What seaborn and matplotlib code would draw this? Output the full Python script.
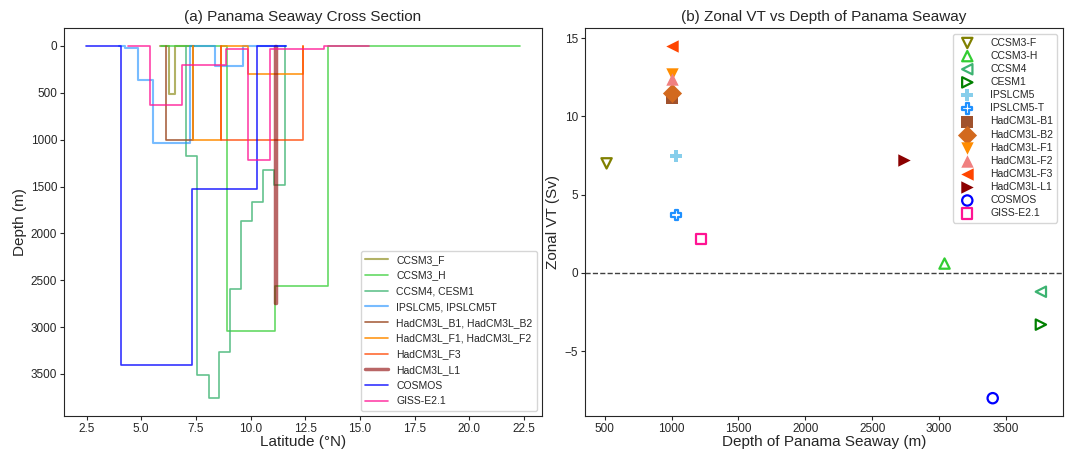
import matplotlib
matplotlib.use("Agg")
import matplotlib.pyplot as plt
import seaborn as sns

# (a) cross-section outlines: cell edges (deg N) and the depth of each cell (m)
ccsm3_f_lat = [5.85, 6.26, 6.54, 7.40]
ccsm3_f_depth = [0, 514, 0]
ccsm3_h_lat = [5.90, 8.92, 11.10, 13.53, 22.33]
ccsm3_h_depth = [0, 3039, 2564, 0]
ccsm4_lat = [7.07, 7.57, 8.08, 8.55, 9.06, 9.56, 10.06, 10.58, 11.07, 11.56]
ccsm4_depth = [1170, 3511, 3759, 3262, 2592, 1865, 1670, 1326, 1489]
ipsl_lat = [4.00, 4.25, 4.87, 5.54, 7.25, 8.36, 9.67, 11.60]
ipsl_depth = [0, 25, 364, 1035, 0, 214, 0]
had_b_lat = [6.13, 7.37]
had_b_depth = [1000]
had_f1_lat = [7.37, 8.64, 9.88, 12.39]
had_f1_depth = [1000, 0, 300]
had_f3_lat = [8.64, 12.39]
had_f3_depth = [1000]
had_l1_lat = [11.10, 11.18]
had_l1_depth = [2740]
cosmos_lat = [2.47, 4.07, 7.34, 10.30, 11.60]
cosmos_depth = [0, 3400, 1530, 0]
giss_lat = [4.40, 5.39, 6.88, 8.86, 9.90, 10.88, 13.38, 15.40]
giss_depth = [0, 625, 207, 29, 1221, 29, 0]

# (b) zonal volume transport against seaway depth
vt_models = ["CCSM3-F", "CCSM3-H", "CCSM4", "CESM1", "IPSLCM5", "IPSLCM5-T",
             "HadCM3L-B1", "HadCM3L-B2", "HadCM3L-F1", "HadCM3L-F2", "HadCM3L-F3",
             "HadCM3L-L1", "COSMOS", "GISS-E2.1"]
seaway_depth = [514, 3040, 3760, 3760, 1035, 1035, 1000, 1000, 1000, 1000, 1000,
                2740, 3400, 1220]
zonal_vt = [7.0, 0.6, -1.2, -3.3, 7.5, 3.7, 11.2, 11.5, 12.7, 12.4, 14.5,
            7.2, -8.0, 2.15]


def step_outline(edges, depths):
    """Turn cell edges and depths into the x/y vertices of a stepped outline."""
    xs, ys = [edges[0]], [0]
    for i, d in enumerate(depths):
        xs += [edges[i], edges[i + 1]]
        ys += [d, d]
    xs.append(edges[-1])
    ys.append(0)
    return xs, ys


sns.set_style("ticks")
plt.rcParams["font.family"] = ["Liberation Sans", "DejaVu Sans"]

fig, (ax1, ax2) = plt.subplots(1, 2, figsize=(10.69, 4.5), dpi=100)
fig.subplots_adjust(left=0.06, right=0.994, top=0.937, bottom=0.076, wspace=0.09)

profiles = [
    ("CCSM3_F", ccsm3_f_lat, ccsm3_f_depth, "olive", 0.6, 1.5),
    ("CCSM3_H", ccsm3_h_lat, ccsm3_h_depth, "limegreen", 0.75, 1.2),
    ("CCSM4, CESM1", ccsm4_lat, ccsm4_depth, "mediumseagreen", 0.8, 1.2),
    ("IPSLCM5, IPSLCM5T", ipsl_lat, ipsl_depth, "dodgerblue", 0.6, 1.5),
    ("HadCM3L_B1, HadCM3L_B2", had_b_lat, had_b_depth, "sienna", 0.9, 1.2),
    ("HadCM3L_F1, HadCM3L_F2", had_f1_lat, had_f1_depth, "darkorange", 0.9, 1.2),
    ("HadCM3L_F3", had_f3_lat, had_f3_depth, "orangered", 0.8, 1.2),
    ("HadCM3L_L1", had_l1_lat, had_l1_depth, "darkred", 0.6, 2.5),
    ("COSMOS", cosmos_lat, cosmos_depth, "blue", 0.8, 1.2),
    ("GISS-E2.1", giss_lat, giss_depth, "deeppink", 0.8, 1.2),
]
for label, lat, depth, color, alpha, lw in profiles:
    xs, ys = step_outline(lat, depth)
    sns.lineplot(x=xs, y=ys, sort=False, estimator=None, color=color,
                 alpha=alpha, linewidth=lw, label=label, ax=ax1)

ax1.invert_yaxis()
ax1.set_title("(a) Panama Seaway Cross Section", fontsize=11, pad=5)
ax1.set_xlabel("Latitude (°N)", fontsize=11, labelpad=0)
ax1.set_ylabel("Depth (m)", fontsize=11, labelpad=3)
ax1.tick_params(labelsize=8.5, length=3, width=0.8, pad=2)
ax1.legend(loc="lower right", fontsize=7.5, labelspacing=0.55, handlelength=2.2)

markers = ["v", "^", "<", ">", "P", "P", "s", "D", "v", "^", "<", ">", "o", "s"]
colors = ["olive", "limegreen", "mediumseagreen", "green", "skyblue", "dodgerblue",
          "sienna", "chocolate", "darkorange", "lightcoral", "orangered", "darkred",
          "blue", "deeppink"]
hollow = [True, True, True, True, False, True, False, False, False, False, False,
          False, True, True]

for name, d, v, m, c, h in zip(vt_models, seaway_depth, zonal_vt, markers, colors, hollow):
    if h:
        sns.scatterplot(x=[d], y=[v], marker=m, s=55, color=c, facecolor="none",
                        edgecolor=c, linewidth=1.6, label=name, ax=ax2)
    else:
        sns.scatterplot(x=[d], y=[v], marker=m, s=95 if m == "D" else 80, color=c,
                        edgecolor=c, linewidth=0, label=name, ax=ax2)

ax2.axhline(0, color="0.25", linestyle="--", linewidth=1)
ax2.set_title("(b) Zonal VT vs Depth of Panama Seaway", fontsize=11, pad=5)
ax2.set_xlabel("Depth of Panama Seaway (m)", fontsize=11, labelpad=0)
ax2.set_ylabel("Zonal VT (Sv)", fontsize=11, labelpad=3)
ax2.tick_params(labelsize=8.5, length=3, width=0.8, pad=2)
ax2.legend(loc="upper right", fontsize=7.5, labelspacing=0.3, handletextpad=1.2)

fig.savefig("out.png", dpi=100)
